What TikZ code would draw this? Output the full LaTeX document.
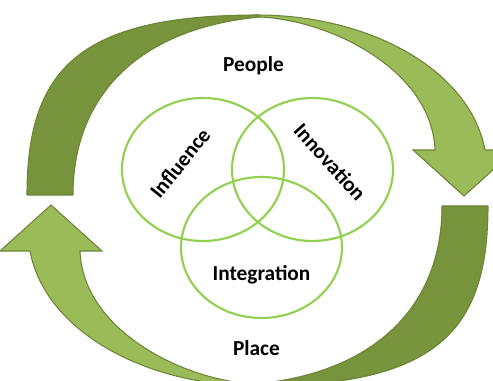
\documentclass[tikz,border=0pt]{standalone}
\usepackage{fontspec}
\setmainfont{Carlito}
\definecolor{darkolive}{HTML}{77933C}
\definecolor{lightolive}{HTML}{9BBB59}
\definecolor{oliveline}{HTML}{6C8537}
\definecolor{ringgreen}{HTML}{92D050}
\tikzset{
  backband/.style={fill=darkolive, draw=oliveline, line width=0.8pt, line join=round},
  frontband/.style={fill=lightolive, draw=oliveline, line width=0.8pt, line join=miter},
  ring/.style={draw=ringgreen, line width=1.6pt},
  lbl/.style={font=\fontsize{16}{19}\selectfont\bfseries, text=black, inner sep=0pt}
}
\newcommand\greenarrow{%
  \path[backband] (27,195) .. controls (27,70) and (78,15) .. (258,15)
     -- (260,17) .. controls (140,28) and (73,95) .. (73,195) -- cycle;
  \path[frontband] (257,15) .. controls (370,15) and (470,70) .. (485,150)
     -- (515,150) -- (464,196) -- (413,150) -- (435,150)
     .. controls (432,70) and (330,20) .. (260,17) -- cycle;
}
\begin{document}
\begin{tikzpicture}[x=0.75pt, y=-0.75pt]
  \useasboundingbox (0,0) rectangle (493,381);
  \clip (0,0) rectangle (493,381);
  \fill[white] (0,0) rectangle (493,381);
  % top curved arrow
  \greenarrow
  % bottom curved arrow (same shape turned half round)
  \begin{scope}[rotate around={180:(257.5,200.5)}]
    \greenarrow
  \end{scope}
  % three rings
  \draw[ring] (203,169.5) ellipse [x radius=81, y radius=71.5];
  \draw[ring] (312.5,169.5) ellipse [x radius=80.5, y radius=71.5];
  \draw[ring] (261.5,247.5) ellipse [x radius=80.5, y radius=70.5];
  % labels
  \node[lbl, anchor=base] (people) at (253.5,72) {People};
  \node[lbl, anchor=base] (place) at (256.5,355.5) {Place};
  \node[lbl, anchor=base] (integration) at (261.5,281) {Integration};
  \node[lbl, rotate=51] (influence) at (180,163) {Influence};
  \node[lbl, rotate=-48] (innovation) at (330,162) {Innovation};
\end{tikzpicture}
\end{document}
